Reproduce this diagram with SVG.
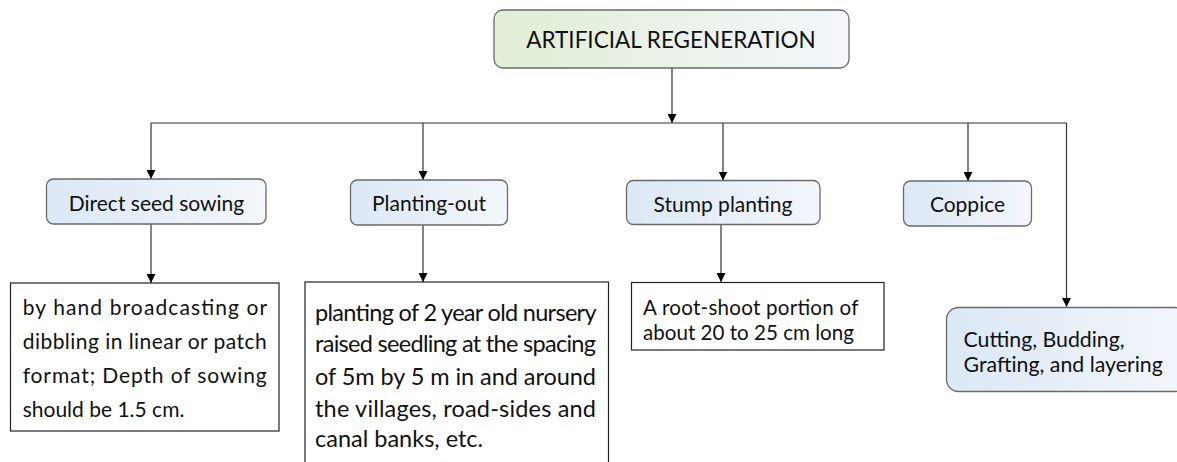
<svg xmlns="http://www.w3.org/2000/svg" width="1177" height="462" viewBox="0 0 1177 462">
<defs>
<linearGradient id="gGreen" x1="0" y1="0" x2="1" y2="0">
<stop offset="0" stop-color="#e0eed6"/>
<stop offset="1" stop-color="#f4f6fb"/>
</linearGradient>
<linearGradient id="gBlue" x1="0" y1="0" x2="1" y2="0">
<stop offset="0" stop-color="#dbe8f5"/>
<stop offset="1" stop-color="#f3f6fb"/>
</linearGradient>
<marker id="arr" markerWidth="10" markerHeight="9" refX="9" refY="4.5" orient="auto" markerUnits="userSpaceOnUse">
<path d="M0,0 L9,4.5 L0,9 Z" fill="#000"/>
</marker>
<style>
.t{font-family:Lato,"Liberation Sans",sans-serif;fill:#111;}
.b{fill:url(#gBlue);stroke:#6a6a6a;stroke-width:1.3;}
.w{fill:#fff;stroke:#222;stroke-width:1.2;}
.c{fill:none;stroke:#333;stroke-width:1.2;}
.ca{fill:none;stroke:#333;stroke-width:1.2;marker-end:url(#arr);}
</style>
</defs>
<rect width="1177" height="462" fill="#fff"/>

<g id="connectors">
<path class="ca" d="M672 68 V123"/>
<path class="c" d="M151 123 H1066.5"/>
<path class="ca" d="M151 123 V179"/>
<path class="ca" d="M423 123 V180"/>
<path class="ca" d="M723 123 V180.5"/>
<path class="ca" d="M968 123 V181"/>
<path class="ca" d="M1066.5 123 V307"/>
<path class="ca" d="M151 224 V283"/>
<path class="ca" d="M423 225 V282"/>
<path class="ca" d="M721 224.5 V282"/>
</g>

<g id="root">
<rect x="494" y="10" width="355" height="58" rx="9" fill="url(#gGreen)" stroke="#6a6a6a" stroke-width="1.3"/>
<text class="t" x="671" y="47.5" font-size="22.5" text-anchor="middle">ARTIFICIAL REGENERATION</text>
</g>

<g id="direct">
<rect class="b" x="46.5" y="179" width="219.5" height="45" rx="7"/>
<text class="t" x="156.5" y="211" font-size="21" text-anchor="middle">Direct seed sowing</text>
</g>
<g id="planting">
<rect class="b" x="350.5" y="180" width="157" height="45" rx="7"/>
<text class="t" x="429" y="211" font-size="21" text-anchor="middle">Planting-out</text>
</g>
<g id="stump">
<rect class="b" x="626.5" y="180.5" width="193.5" height="44" rx="7"/>
<text class="t" x="723" y="212" font-size="21" text-anchor="middle">Stump planting</text>
</g>
<g id="coppice">
<rect class="b" x="903.5" y="181" width="128" height="45" rx="7"/>
<text class="t" x="967.5" y="212" font-size="21" text-anchor="middle">Coppice</text>
</g>

<g id="direct-desc">
<rect class="w" x="10.5" y="283" width="268.5" height="148"/>
<text class="t" font-size="21">
<tspan x="22.7" y="315" textLength="244" lengthAdjust="spacing">by hand broadcasting or</tspan>
<tspan x="22.7" y="349" textLength="244" lengthAdjust="spacing">dibbling in linear or patch</tspan>
<tspan x="22.7" y="383" textLength="244" lengthAdjust="spacing">format; Depth of sowing</tspan>
<tspan x="22.7" y="417">should be 1.5 cm.</tspan>
</text>
</g>

<g id="planting-desc">
<rect class="w" x="305" y="282" width="303.5" height="200"/>
<text class="t" font-size="23.5">
<tspan x="315" y="320.5" textLength="281" lengthAdjust="spacing">planting of 2 year old nursery</tspan>
<tspan x="315" y="352" textLength="281" lengthAdjust="spacing">raised seedling at the spacing</tspan>
<tspan x="315" y="384.5" textLength="281" lengthAdjust="spacing">of 5m by 5 m in and around</tspan>
<tspan x="315" y="416.5" textLength="281" lengthAdjust="spacing">the villages, road-sides and</tspan>
<tspan x="315" y="447">canal banks, etc.</tspan>
</text>
</g>

<g id="stump-desc">
<rect class="w" x="631.5" y="282.5" width="252.5" height="67.5"/>
<text class="t" font-size="20.6">
<tspan x="643" y="315" textLength="215" lengthAdjust="spacing">A root-shoot portion of</tspan>
<tspan x="643" y="340">about 20 to 25 cm long</tspan>
</text>
</g>

<g id="coppice-desc">
<rect class="b" x="946.5" y="307.5" width="240" height="84" rx="12"/>
<text class="t" font-size="21.3">
<tspan x="963.5" y="346.5">Cutting, Budding,</tspan>
<tspan x="963.5" y="371.5">Grafting, and layering</tspan>
</text>
</g>
</svg>
